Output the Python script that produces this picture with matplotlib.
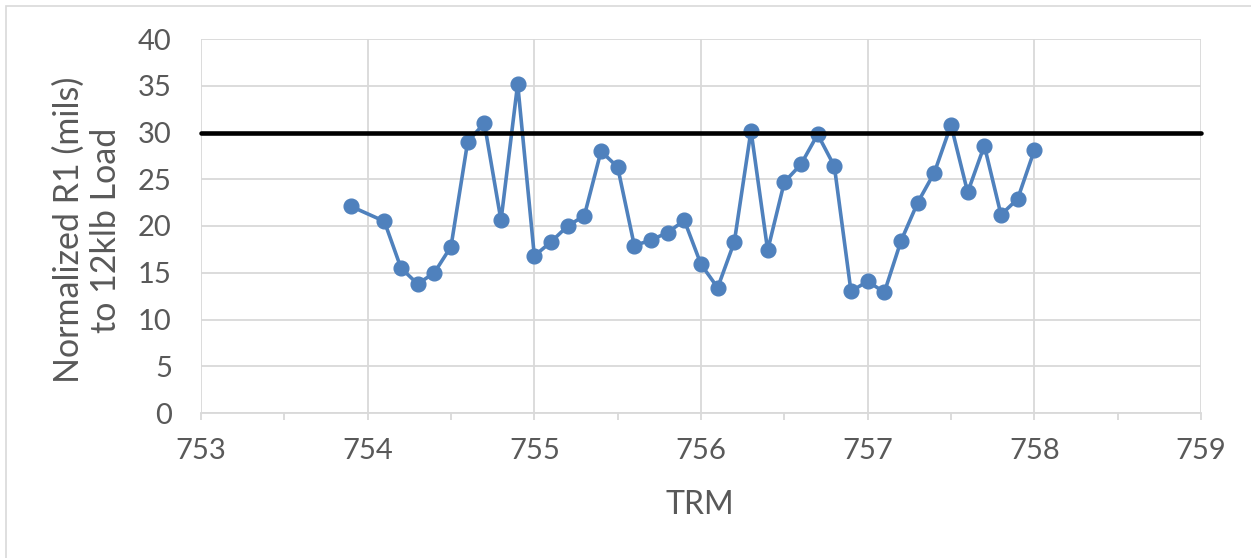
import matplotlib
matplotlib.use("Agg")
import matplotlib.pyplot as plt
from matplotlib.patches import Rectangle
from matplotlib.ticker import MultipleLocator

trm = [753.9, 754.1, 754.2, 754.3, 754.4, 754.5, 754.6, 754.7, 754.8, 754.9,
       755.0, 755.1, 755.2, 755.3, 755.4, 755.5, 755.6, 755.7, 755.8, 755.9,
       756.0, 756.1, 756.2, 756.3, 756.4, 756.5, 756.6, 756.7, 756.8, 756.9,
       757.0, 757.1, 757.2, 757.3, 757.4, 757.5, 757.6, 757.7, 757.8, 757.9,
       758.0]
r1 = [22.1, 20.5, 15.5, 13.8, 15.0, 17.8, 29.0, 31.0, 20.6, 35.2,
      16.8, 18.3, 20.0, 21.1, 28.0, 26.3, 17.9, 18.5, 19.3, 20.6,
      15.9, 13.4, 18.3, 30.2, 17.4, 24.7, 26.6, 29.8, 26.4, 13.0,
      14.1, 12.9, 18.4, 22.5, 25.7, 30.8, 23.6, 28.6, 21.2, 22.9,
      28.1]
limit_x = [753, 759]
limit_y = [30, 30]
x_ticks = [753, 754, 755, 756, 757, 758, 759]
y_ticks = [0, 5, 10, 15, 20, 25, 30, 35, 40]

plt.rcParams['font.family'] = ['Lato', 'DejaVu Sans']
W, H = 1251, 558
fig = plt.figure(figsize=(W / 100, H / 100), dpi=100)
fig.patch.set_facecolor('white')
# chart-area frame
fig.patches.append(Rectangle((6 / W, -0.05), (W - 6) / W + 0.05, 1.05 - 6 / H,
                             transform=fig.transFigure, fill=False,
                             edgecolor='#d9d9d9', linewidth=1.2))

ax = fig.add_axes([201 / W, 1 - 413 / H, 1000 / W, (413 - 39) / H])
grid_c = '#d9d9d9'
tick_c = '#595959'

ax.set_xlim(753, 759)
ax.set_ylim(0, 40)
ax.set_xticks(x_ticks)
ax.set_yticks(y_ticks)
ax.xaxis.set_minor_locator(MultipleLocator(0.5))
ax.grid(True, which='major', color=grid_c, linewidth=1.3)
ax.set_axisbelow(True)
for s in ['top', 'right', 'left']:
    ax.spines[s].set_visible(False)
ax.spines['bottom'].set_color(grid_c)
ax.spines['bottom'].set_linewidth(1.3)
ax.tick_params(axis='x', which='both', direction='out', color=grid_c,
               width=1.3, length=5, labelsize=21, labelcolor=tick_c, pad=13)
ax.tick_params(axis='y', length=0, labelsize=21, labelcolor=tick_c, pad=21)

ax.plot(trm, r1, color='#4f81bd', linewidth=2.6, marker='o', markersize=10.6,
        zorder=3, clip_on=False)
ax.plot(limit_x, limit_y, color='black', linewidth=3.3, zorder=4,
        solid_capstyle='round', clip_on=False)

fig.text(700 / W, 1 - 505 / H, 'TRM', fontsize=23, color=tick_c,
         ha='center', va='center')
fig.text(87 / W, 1 - 230 / H, 'Normalized R1 (mils)\nto 12klb Load',
         fontsize=24.5, color=tick_c, rotation=90, ha='center', va='center',
         multialignment='center', linespacing=1.2)

fig.savefig('out.png', dpi=100)
